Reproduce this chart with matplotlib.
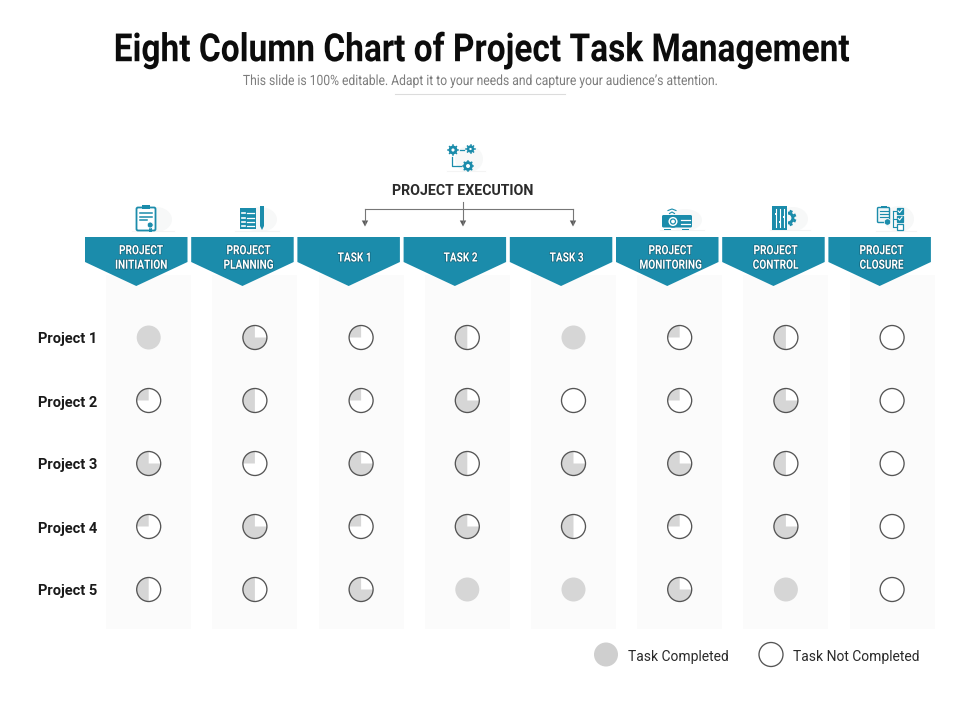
import math
import matplotlib
matplotlib.use("Agg")
import matplotlib.pyplot as plt
import matplotlib.patheffects as pe
from matplotlib.transforms import Affine2D
from matplotlib.patches import Wedge, Circle, Polygon, Rectangle, FancyBboxPatch, Ellipse

projects = ["Project 1", "Project 2", "Project 3", "Project 4", "Project 5"]
columns = ["PROJECT\nINITIATION", "PROJECT\nPLANNING", "TASK 1", "TASK 2", "TASK 3",
           "PROJECT\nMONITORING", "PROJECT\nCONTROL", "PROJECT\nCLOSURE"]
initiation = [100, 25, 75, 25, 50]
planning = [75, 50, 25, 75, 50]
task_1 = [25, 25, 75, 25, 75]
task_2 = [50, 75, 50, 75, 100]
task_3 = [100, 0, 75, 50, 100]
monitoring = [25, 25, 75, 25, 75]
control = [50, 75, 50, 75, 100]
closure = [0, 0, 0, 0, 0]
series = [initiation, planning, task_1, task_2, task_3, monitoring, control, closure]
label_x = [141, 248.5, 354.5, 460.5, 566.5, 670.5, 775.5, 881.5]

body = "Roboto"
TEAL = "#1b8cab"
GREY = "#d6d6d6"
EDGE = "#555555"
BAND = "#fbfbfb"


class Narrow(pe.AbstractPathEffect):
    """Squeezes real text horizontally about a pixel x, with an optional stroke."""

    def __init__(self, cx, sx, stroke=None, stroke_lw=0.0):
        super().__init__()
        self.cx, self.sx, self.stroke, self.stroke_lw = cx, sx, stroke, stroke_lw

    def draw_path(self, renderer, gc, tpath, affine, rgbFace=None):
        aff = affine + Affine2D().translate(-self.cx, 0).scale(self.sx, 1).translate(self.cx, 0)
        if self.stroke:
            g = renderer.new_gc()
            g.copy_properties(gc)
            g.set_foreground(self.stroke)
            g.set_linewidth(self.stroke_lw)
            renderer.draw_path(g, tpath, aff, rgbFace)
            g.restore()
        renderer.draw_path(gc, tpath, aff, rgbFace)


fig = plt.figure(figsize=(9.6, 7.2), dpi=100)
ax = fig.add_axes([0, 0, 1, 1])
ax.set_xlim(0, 960)
ax.set_ylim(720, 0)
ax.axis("off")

ax.text(481, 50.5, "Eight Column Chart of Project Task Management", family=body,
        weight="bold", fontsize=28, color="#0c0c0c", ha="center", va="center",
        path_effects=[Narrow(481, 0.86)])
ax.text(480, 81, "This slide is 100% editable. Adapt it to your needs and capture your audience\u2019s attention.",
        family=body, fontsize=10.2, color="#7d7d7d", ha="center", va="center",
        path_effects=[Narrow(480, 0.856)])
ax.plot([395, 565], [93.5, 93.5], color="#dcdcdc", lw=0.8)

col_x0, col_dx = 148.7, 106.2
row_y0, row_dy = 337.5, 63
radius = 12
for i, (col, vals) in enumerate(zip(columns, series)):
    cx = col_x0 + i * col_dx
    ax.add_patch(Rectangle((cx - 42.5, 275), 85, 354, fc=BAND, ec="none", zorder=1))
    left = 85 + i * 106.2
    right = left + 102.5
    mid = (left + right) / 2
    ax.add_patch(Polygon([(left, 237), (right, 237), (right, 262), (mid, 286), (left, 262)],
                         fc=TEAL, ec="none", zorder=2))
    ax.text(label_x[i], 258, col, family=body, weight="bold", fontsize=9.2, color="white",
            ha="center", va="center", linespacing=1.15, zorder=3,
            path_effects=[Narrow(label_x[i], 0.79, stroke="#14637a", stroke_lw=1.0)])
    for j, v in enumerate(vals):
        cy = row_y0 + j * row_dy
        if v == 100:
            ax.add_patch(Circle((cx, cy), radius, fc=GREY, ec="none", zorder=3))
            continue
        ax.add_patch(Circle((cx, cy), radius, fc="white", ec="none", zorder=3))
        if v > 0:
            ax.add_patch(Wedge((cx, cy), radius, 270 - 360 * v / 100, 270, fc=GREY, ec="none", zorder=4))
        ax.add_patch(Circle((cx, cy), radius, fc="none", ec=EDGE, lw=0.95, zorder=5))

for j, p in enumerate(projects):
    ax.text(38, row_y0 + j * row_dy + 2, p, family=body, weight="bold", fontsize=10.5, color="#1a1a1a",
            ha="left", va="center")

# Legend
ax.add_patch(Circle((606, 654.5), 12, fc="#cfcfcf", ec="none"))
ax.text(628, 657, "Task Completed", family=body, fontsize=10, color="#2a2a2a", va="center")
ax.add_patch(Circle((771, 654.5), 12, fc="white", ec=EDGE, lw=0.95))
ax.text(793, 657, "Task Not Completed", family=body, fontsize=10, color="#2a2a2a", va="center")

# Project execution bracket
ax.text(462.5, 191, "PROJECT EXECUTION", family=body, weight="bold", fontsize=10.2, color="#2b2b2b",
        ha="center", va="center")
LINE = "#777777"
ax.plot([365, 573], [208.5, 208.5], color=LINE, lw=0.8)
ax.plot([463, 463], [202, 224], color=LINE, lw=0.8)
for x in [365, 573]:
    ax.plot([x, x], [208.5, 224], color=LINE, lw=0.8)
for x in [365, 463, 573]:
    ax.add_patch(Polygon([(x - 3.2, 220.5), (x + 3.2, 220.5), (x, 226.5)], fc="#5c5c5c", ec="none"))


def backdrop(x0, x1, y0, y1):
    ax.add_patch(Ellipse(((x0 + x1) / 2, (y0 + y1) / 2), x1 - x0, y1 - y0, fc="#f7f8f8", ec="none", zorder=1))
    ax.plot([x0 - 8, x1 + 2], [y1 - 1, y1 - 1], color="#f4f4f4", lw=0.8, zorder=1)


def gear(x, y, r, lw=2.0):
    ax.add_patch(Circle((x, y), r, fc="white", ec=TEAL, lw=lw, zorder=3))
    for k in range(8):
        a = k * math.pi / 4
        ax.plot([x + r * math.cos(a), x + (r + 1.8) * math.cos(a)],
                [y + r * math.sin(a), y + (r + 1.8) * math.sin(a)], color=TEAL, lw=1.1, zorder=3)


# Execution icon
backdrop(455, 483, 146, 172)
gear(453, 150, 3.0)
gear(470.5, 149, 2.4, 1.7)
gear(468, 166, 3.4)
ax.plot([460, 464], [150, 150], color=TEAL, lw=0.9, zorder=3)
ax.plot([452, 452, 461], [157, 166, 166], color=TEAL, lw=0.9, zorder=3)

# Initiation icon
backdrop(140, 172, 207, 232)
ax.add_patch(FancyBboxPatch((136.5, 207.5), 19, 23, boxstyle="round,pad=0,rounding_size=1.5",
                            fc="white", ec=TEAL, lw=1.3, zorder=3))
ax.add_patch(Rectangle((142, 205), 8, 3.5, fc=TEAL, ec="none", zorder=4))
for y, x1 in [(213, 152), (216.5, 152), (220, 147)]:
    ax.plot([140, x1], [y, y], color=TEAL, lw=1.1, zorder=4)
ax.add_patch(Rectangle((148.5, 226), 3.5, 6, fc=TEAL, ec="none", zorder=4))
ax.add_patch(Circle((150.2, 225), 3, fc=TEAL, ec="white", lw=0.6, zorder=5))

# Planning icon
backdrop(243, 277, 207, 232)
ax.add_patch(Rectangle((240, 208), 15.5, 21, fc=TEAL, ec="none", zorder=3))
for y in [213, 218, 222, 226]:
    ax.plot([242, 244.5], [y, y], color="white", lw=1.2, zorder=4)
    ax.plot([246.5, 254], [y, y], color="white", lw=0.9, zorder=4)
ax.add_patch(Polygon([(260, 206), (264, 206), (264, 226), (262, 230), (260, 226)], fc=TEAL, ec="none", zorder=3))

# Monitoring icon
backdrop(668, 702, 209, 231)
ax.add_patch(FancyBboxPatch((662, 215), 30, 12.5, boxstyle="round,pad=0,rounding_size=1.5", fc=TEAL, ec="none", zorder=3))
ax.add_patch(Circle((673, 221.5), 5.4, fc="white", ec=TEAL, lw=1.2, zorder=4))
ax.add_patch(Circle((673, 221.5), 2.5, fc="white", ec=TEAL, lw=0.9, zorder=4))
for y in [219.5, 223.5]:
    ax.plot([681, 690], [y, y], color="white", lw=0.9, zorder=4)
ax.add_patch(Rectangle((664, 228.5), 7, 1.6, fc=TEAL, ec="none", zorder=3))
ax.add_patch(Rectangle((682, 228.5), 7, 1.6, fc=TEAL, ec="none", zorder=3))
for w, y in [(5, 212.5), (8, 209.5)]:
    ax.plot([672 - w / 2, 672, 672 + w / 2], [y + 1, y - 0.5, y + 1], color=TEAL, lw=0.8, zorder=3)

# Control icon
backdrop(778, 808, 207, 231)
ax.add_patch(Rectangle((772, 206), 15, 24, fc=TEAL, ec="none", zorder=3))
for x, y in [(776, 214), (780, 222), (784, 217)]:
    ax.plot([x, x], [209, 227], color="white", lw=0.8, zorder=4)
    ax.add_patch(Rectangle((x - 1.2, y - 1), 2.4, 2, fc="white", ec="none", zorder=4))
ax.add_patch(Wedge((788, 218), 6.4, -90, 90, width=3.0, fc=TEAL, ec="none", zorder=3))
for deg in [-65, -22, 22, 65]:
    a = math.radians(deg)
    ax.plot([788 + 6 * math.cos(a), 788 + 8.4 * math.cos(a)],
            [218 + 6 * math.sin(a), 218 + 8.4 * math.sin(a)], color=TEAL, lw=2.2, zorder=3, solid_capstyle="butt")

# Closure icon
backdrop(884, 914, 206, 232)
ax.add_patch(FancyBboxPatch((877.5, 207.5), 12, 15, boxstyle="round,pad=0,rounding_size=1",
                            fc="#eef6f8", ec=TEAL, lw=1.0, zorder=3))
ax.add_patch(Rectangle((880.5, 205.5), 6, 2.5, fc=TEAL, ec="none", zorder=4))
for y in [211, 214, 217]:
    ax.plot([879.5, 887.5], [y, y], color=TEAL, lw=0.8, zorder=4)
ax.add_patch(Circle((887.5, 222), 3.2, fc=TEAL, ec="white", lw=0.5, zorder=5))
ax.plot([893, 893], [211, 226], color=TEAL, lw=0.8, zorder=3)
for k, y in enumerate([208, 215.5, 223.5]):
    ax.add_patch(Rectangle((897, y), 6, 6, fc=TEAL if k < 2 else "white", ec=TEAL, lw=0.9, zorder=3))
    ax.plot([893, 897], [y + 3, y + 3], color=TEAL, lw=0.8, zorder=3)
    if k < 2:
        ax.plot([898.2, 899.6, 902], [y + 3, y + 4.5, y + 1.5], color="white", lw=0.8, zorder=4)

fig.savefig("out.png", dpi=100)
